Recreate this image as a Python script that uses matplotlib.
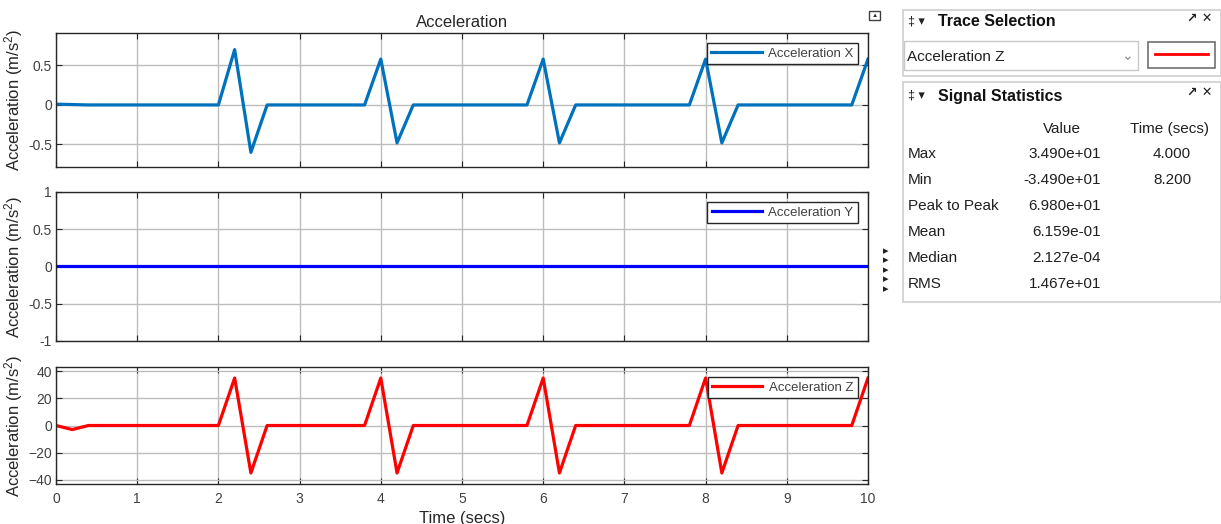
import matplotlib
matplotlib.use('Agg')
import matplotlib.pyplot as plt
from matplotlib.patches import Rectangle
from matplotlib.lines import Line2D

plt.rcParams['font.family'] = ['Liberation Sans', 'DejaVu Sans']
plt.rcParams['mathtext.default'] = 'regular'

############## signal breakpoints ########################################
x_time = [0, 0.4, 2.0, 2.2, 2.4, 2.6, 3.8, 4.0, 4.2, 4.4, 5.8, 6.0, 6.2, 6.4,
          7.8, 8.0, 8.2, 8.4, 9.8, 10.0]
accel_x = [0.01, 0, 0, 0.7, -0.6, 0, 0, 0.58, -0.48, 0, 0, 0.58, -0.48, 0,
           0, 0.58, -0.48, 0, 0, 0.58]

y_time = [0, 10.0]
accel_y = [0, 0]

z_time = [0, 0.2, 0.4, 2.0, 2.2, 2.4, 2.6, 3.8, 4.0, 4.2, 4.4, 5.8, 6.0, 6.2,
          6.4, 7.8, 8.0, 8.2, 8.4, 9.8, 10.0]
accel_z = [0, -3, 0, 0, 34.9, -34.9, 0, 0, 34.9, -34.9, 0, 0, 34.9, -34.9,
           0, 0, 34.9, -34.9, 0, 0, 34.9]

x_ticks = [0, 1, 2, 3, 4, 5, 6, 7, 8, 9, 10]

stat_names = ['Max', 'Min', 'Peak to Peak', 'Mean', 'Median', 'RMS']
stat_values = ['3.490e+01', '-3.490e+01', '6.980e+01', '6.159e-01', '2.127e-04', '1.467e+01']
stat_times = ['4.000', '8.200', '', '', '', '']

W, H = 1221, 524
fig = plt.figure(figsize=(W / 100, H / 100), dpi=100)

def box(x0, y0, x1, y1):
    # pixel box (top-left origin) -> figure fraction rect
    return [x0 / W, 1 - y1 / H, (x1 - x0) / W, (y1 - y0) / H]

ax1 = fig.add_axes(box(56, 33, 868, 167))
ax2 = fig.add_axes(box(56, 192, 868, 341))
ax3 = fig.add_axes(box(56, 367, 868, 484))

ax1.plot(x_time, accel_x, color='#0072BD', lw=2.3, label='Acceleration X')
ax2.plot(y_time, accel_y, color='#0000FF', lw=2.3, label='Acceleration Y')
ax3.plot(z_time, accel_z, color='#FF0000', lw=2.3, label='Acceleration Z')

ax1.set_ylim(-0.785, 0.91)
ax1.set_yticks([-0.5, 0, 0.5])
ax1.set_yticklabels(['-0.5', '0', '0.5'])
ax2.set_ylim(-1, 1)
ax2.set_yticks([-1, -0.5, 0, 0.5, 1])
ax2.set_yticklabels(['-1', '-0.5', '0', '0.5', '1'])
ax3.set_ylim(-43, 43)
ax3.set_yticks([-40, -20, 0, 20, 40])

for ax in (ax1, ax2, ax3):
    ax.set_xlim(0, 10)
    ax.set_xticks(x_ticks)
    ax.grid(True, color='#bdbdbd', lw=1.0)
    ax.set_axisbelow(True)
    ax.tick_params(direction='in', top=True, right=True, length=4,
                   colors='#262626', labelcolor='#404040', labelsize=10, pad=3)
    ax.tick_params(axis='x', pad=6)
    for s in ax.spines.values():
        s.set_color('#262626')
        s.set_linewidth(1.0)
    ax.set_ylabel('Acceleration (m/s$^2$)', fontsize=12, color='#262626', labelpad=2)
    leg = ax.legend(loc='upper right', fancybox=False, edgecolor='#262626',
                    framealpha=1, fontsize=9.5, handlelength=3.8, borderpad=0.35,
                    borderaxespad=0.75, handletextpad=0.5)
    leg.get_frame().set_linewidth(1.0)
    for txt in leg.get_texts():
        txt.set_color('#404040')

ax1.tick_params(labelbottom=False)
ax2.tick_params(labelbottom=False)
ax1.set_title('Acceleration', fontsize=12, color='#262626', pad=4)
ax3.set_xlabel('Time (secs)', fontsize=12, color='#262626', labelpad=3)

def px(x, y):
    return x / W, 1 - y / H

# small undock icon and side arrows
fig.patches.append(Rectangle(px(869, 20), 11 / W, 9 / H, transform=fig.transFigure,
                             fill=False, edgecolor='#404040', lw=1))
fig.text(*px(874.5, 15.5), '▲', fontsize=4.5, ha='center', va='center', color='#303030')
for i in range(5):
    fig.text(*px(886, 251 + i * 9.5), '▸', fontsize=8, ha='center', va='center',
             color='#202020', family=['DejaVu Sans'])

# --- Trace Selection panel ---
fig.patches.append(Rectangle(px(903, 76), 318 / W, 66 / H, transform=fig.transFigure,
                             fill=False, edgecolor='#d0d0d0', lw=1.2))
fig.text(*px(908, 21), '‡ ▾', fontsize=9, ha='left', va='center', color='#202020')
fig.text(*px(938, 22), 'Trace Selection', fontsize=11.5, fontweight='bold',
         ha='left', va='center', color='#111111')
fig.text(*px(1200, 18), '↗ ✕', fontsize=9, fontweight='bold', ha='center',
         va='center', color='#202020', family=['DejaVu Sans'])
fig.patches.append(Rectangle(px(904, 70), 234 / W, 29 / H, transform=fig.transFigure,
                             fill=False, edgecolor='#c8c8c8', lw=1))
fig.text(*px(907, 57), 'Acceleration Z', fontsize=11, ha='left', va='center',
         color='#202020')
fig.text(*px(1127, 56), '⌄', fontsize=10, ha='center', va='center', color='#909090',
         family=['DejaVu Sans'])
fig.patches.append(Rectangle(px(1148, 68), 67 / W, 26 / H, transform=fig.transFigure,
                             fill=False, edgecolor='#707070', lw=1.2))
fig.lines.append(Line2D([1155 / W, 1208 / W], [1 - 54 / H, 1 - 54 / H],
                        transform=fig.transFigure, color='#FF0000', lw=2))

# --- Signal Statistics panel ---
fig.patches.append(Rectangle(px(903, 302), 318 / W, 220 / H, transform=fig.transFigure,
                             fill=False, edgecolor='#d0d0d0', lw=1.2))
fig.text(*px(908, 96), '‡ ▾', fontsize=9, ha='left', va='center', color='#202020')
fig.text(*px(938, 97), 'Signal Statistics', fontsize=11.5, fontweight='bold',
         ha='left', va='center', color='#111111')
fig.text(*px(1200, 93), '↗ ✕', fontsize=9, fontweight='bold', ha='center',
         va='center', color='#202020', family=['DejaVu Sans'])
fig.text(*px(1062, 129), 'Value', fontsize=11, ha='center', va='center', color='#202020')
fig.text(*px(1170, 129), 'Time (secs)', fontsize=11, ha='center', va='center',
         color='#202020')
for i, (name, val, tm) in enumerate(zip(stat_names, stat_values, stat_times)):
    yy = 154 + i * 26
    fig.text(*px(908, yy), name, fontsize=11, ha='left', va='center', color='#202020')
    fig.text(*px(1101, yy), val, fontsize=11, ha='right', va='center', color='#202020')
    if tm:
        fig.text(*px(1172, yy), tm, fontsize=11, ha='center', va='center',
                 color='#202020')

fig.savefig('out.png', dpi=100)
